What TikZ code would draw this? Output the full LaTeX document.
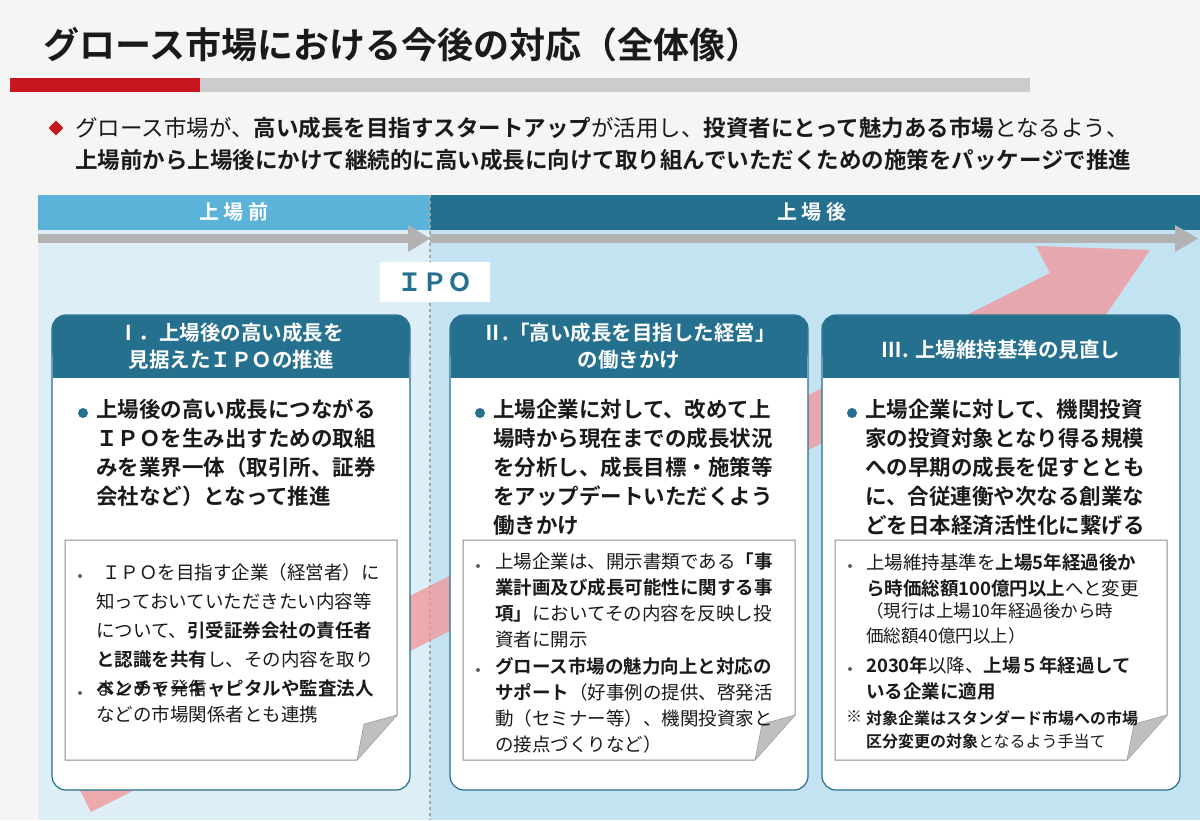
\documentclass[tikz,border=0pt]{standalone}
\usepackage{fontspec}
\setmainfont{Noto Sans CJK JP}[BoldFont={Noto Sans CJK JP Bold}]
\usetikzlibrary{arrows.meta,shapes.geometric}
\definecolor{tealc}{HTML}{25708F}
\definecolor{lband}{HTML}{5BB3D9}
\definecolor{lpan}{HTML}{DDEEF7}
\definecolor{rpan}{HTML}{C4E3F2}
\definecolor{redc}{HTML}{C8161E}
\definecolor{pinkc}{HTML}{F49398}
\definecolor{txt}{HTML}{1A1A1A}
\tikzset{
  hdr/.style={fill=tealc, draw=tealc, rounded corners=12pt},
  card/.style={fill=white, draw=tealc, line width=1.2pt, rounded corners=14pt},
  note/.style={fill=white, draw=black!45, line width=1pt},
  htxt/.style={text=white, font=\bfseries\fontsize{20.5}{27}\selectfont, align=center},
  btxt/.style={text=txt, font=\bfseries\fontsize{21.5}{29}\selectfont, align=left, anchor=north west, inner sep=0pt},
  ntxt/.style={text=txt, font=\fontsize{18.5}{26}\selectfont, align=left, anchor=north west, inner sep=0pt},
  dot/.style={circle, fill=tealc, minimum size=10pt, inner sep=0pt},
  sdot/.style={circle, fill=txt!70, minimum size=4pt, inner sep=0pt},
}
\begin{document}
\begin{tikzpicture}[x=1pt,y=-1pt]
\useasboundingbox (0,0) rectangle (1200,820);
\fill[white!96!black] (0,0) rectangle (1200,820);
% title
\node[anchor=west, font=\bfseries\fontsize{36}{40}\selectfont, text=txt] (title) at (40,45) {グロース市場における今後の対応（全体像）};
\fill[redc] (10,78) rectangle (200,92);
\fill[black!20] (200,78) rectangle (1030,92);
% intro
\node[diamond, fill=redc, minimum size=15pt, inner sep=0pt] (dia) at (56,128) {};
\node[anchor=west, text=txt, font=\fontsize{22.5}{32}\selectfont, align=left, inner sep=0pt] (intro) at (75,144) {グロース市場が、\textbf{高い成長を目指すスタートアップ}が活用し、\textbf{投資者にとって魅力ある市場}となるよう、\\\textbf{上場前から上場後にかけて継続的に高い成長に向けて取り組んでいただくための施策をパッケージで推進}};
% panels
\fill[lpan] (38,230) rectangle (430,820);
\fill[rpan] (430,230) rectangle (1200,820);
\fill[lband] (38,195) rectangle (430,230);
\fill[tealc] (430,195) rectangle (1200,230);
\node[text=white, font=\bfseries\fontsize{20}{22}\selectfont] (pre) at (234,212) {上 場 前};
\node[text=white, font=\bfseries\fontsize{20}{22}\selectfont] (post) at (812,212) {上 場 後};
\draw[black!35, dashed, line width=1.5pt] (430,195) -- (430,820);
\fill[black!30] (38,234) rectangle (408,243);
\fill[black!30] (408,225) -- (430,238.5) -- (408,252) -- cycle;
\fill[black!30] (430,234) rectangle (1175,243);
\fill[black!30] (1175,225) -- (1198,238.5) -- (1175,252) -- cycle;
% red arrow
\fill[pinkc, opacity=0.75] (69,768) -- (1050,273) -- (1036,246) -- (1150,250) -- (1086,344) -- (1072,317) -- (91,812) -- cycle;
% IPO
\node[fill=white, minimum width=110pt, minimum height=40pt, text=tealc, font=\bfseries\fontsize{25}{28}\selectfont] (ipo) at (435,282) {ＩＰＯ};
% cards
\foreach \x/\n in {52/a,450/b,822/c}{
  \draw[card] (\x,315) rectangle ++(358,475);
  \fill[hdr] (\x+0.6,315.6) rectangle ++(356.8,50);
  \fill[tealc] (\x+0.6,340) rectangle ++(356.8,38);
  \draw[note] (\x+13,540) -- ++(332,0) -- ++(0,175) -- ++(-40,45) -- ++(-292,0) -- cycle;
  \fill[black!25] (\x+345,715) -- (\x+305,760) -- (\x+312,724) -- cycle;
  \draw[black!45] (\x+345,715) -- (\x+312,724) -- (\x+305,760);
}
\node[htxt] (h1) at (231,346) {Ⅰ．上場後の高い成長を\\見据えたＩＰＯの推進};
\node[htxt] (h2) at (629,346) {Ⅱ.「高い成長を目指した経営」\\の働きかけ};
\node[htxt] (h3) at (1001,350) {Ⅲ. 上場維持基準の見直し};
% main bullets
\node[dot] (d1) at (83,413) {};
\node[btxt] (b1) at (96,399) {上場後の高い成長につながる\\ＩＰＯを生み出すための取組\\みを業界一体（取引所、証券\\会社など）となって推進};
\node[dot] (d2) at (480,413) {};
\node[btxt] (b2) at (493,399) {上場企業に対して、改めて上\\場時から現在までの成長状況\\を分析し、成長目標・施策等\\をアップデートいただくよう\\働きかけ};
\node[dot] (d3) at (852,413) {};
\node[btxt] (b3) at (865,399) {上場企業に対して、機関投資\\家の投資対象となり得る規模\\への早期の成長を促すととも\\に、合従連衡や次なる創業な\\どを日本経済活性化に繋げる};
% notes card1
\node[sdot] (n1a) at (80,576) {};
\node[ntxt, font=\fontsize{18.5}{29}\selectfont] (n1b) at (96,563) {\hspace{6pt}ＩＰＯを目指す企業（経営者）に\\知っておいていただきたい内容等\\について、\textbf{引受証券会社の責任者}\\\textbf{と認識を共有}し、その内容を取り\\まとめて発信};
\node[sdot] (n1c) at (80,693) {};
\node[ntxt] (n1d) at (96,680) {\textbf{ベンチャーキャピタルや監査法人}\\などの市場関係者とも連携};
% notes card2
\node[sdot] (n2a) at (478,566) {};
\node[ntxt] (n2b) at (495,553) {上場企業は、開示書類である\textbf{「事}\\\textbf{業計画及び成長可能性に関する事}\\\textbf{項」}においてその内容を反映し投\\資者に開示};
\node[sdot] (n2c) at (478,670) {};
\node[ntxt] (n2d) at (495,657) {\textbf{グロース市場の魅力向上と対応の}\\\textbf{サポート}（好事例の提供、啓発活\\動（セミナー等）、機関投資家と\\の接点づくりなど）};
% notes card3
\node[sdot] (n3a) at (850,566) {};
\node[ntxt] (n3b) at (866,553) {上場維持基準を\textbf{上場5年経過後か}\\\textbf{ら時価総額100億円以上}へと変更};
\node[ntxt, font=\fontsize{17.5}{25}\selectfont] (n3c) at (866,602) {（現行は上場10年経過後から時\\価総額40億円以上）};
\node[sdot] (n3d) at (850,669) {};
\node[ntxt] (n3e) at (866,656) {\textbf{2030年}以降、\textbf{上場５年経過して}\\\textbf{いる企業に適用}};
\node[ntxt, font=\fontsize{16}{23}\selectfont] (n3f) at (846,710) {※};
\node[ntxt, font=\fontsize{16}{23}\selectfont] (n3g) at (866,710) {\textbf{対象企業はスタンダード市場への市場}\\\textbf{区分変更の対象}となるよう手当て};
\end{tikzpicture}
\end{document}
